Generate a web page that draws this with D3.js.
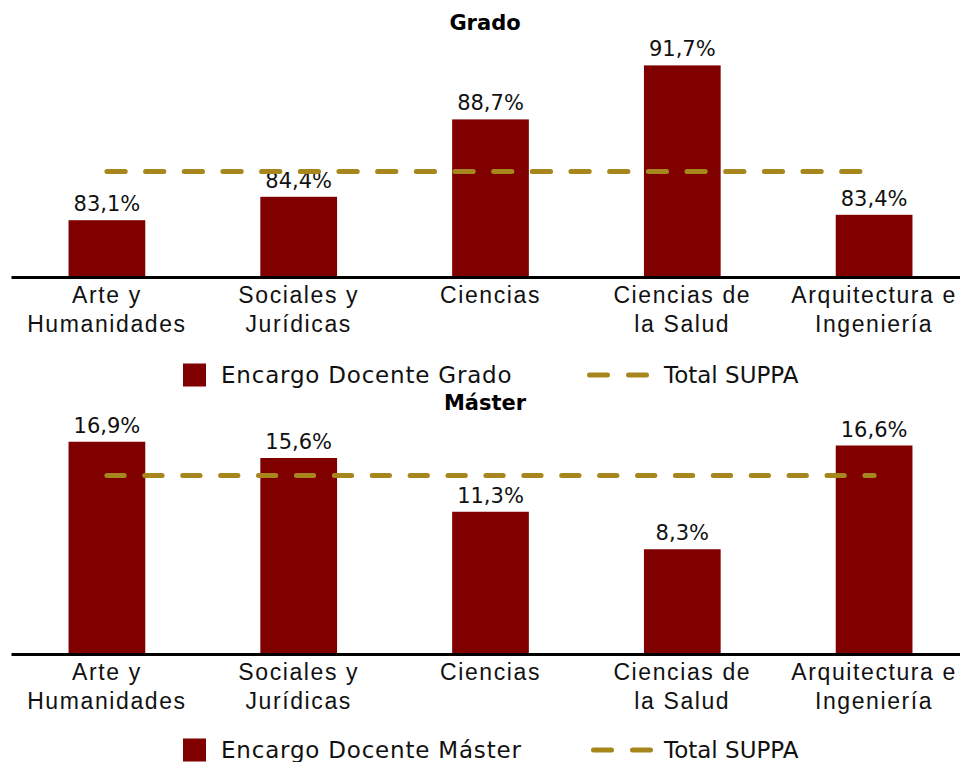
<!DOCTYPE html>
<html>
<head>
<meta charset="utf-8">
<script src="https://cdn.jsdelivr.net/npm/d3@7"></script>
<style>
  body { margin: 0; background: #fff; }
  svg { display: block; font-family: "DejaVu Sans", sans-serif; }
</style>
</head>
<body>
<svg width="960" height="762"></svg>
<script>
// data
var categories = ["Arte y Humanidades", "Sociales y Jurídicas", "Ciencias", "Ciencias de la Salud", "Arquitectura e Ingeniería"];
var labelLines = [["Arte y", "Humanidades"], ["Sociales y", "Jurídicas"], ["Ciencias"], ["Ciencias de", "la Salud"], ["Arquitectura e", "Ingeniería"]];
var gradoValues = [83.1, 84.4, 88.7, 91.7, 83.4];
var gradoTotal = 85.8;
var masterValues = [16.9, 15.6, 11.3, 8.3, 16.6];
var masterTotal = 14.2;

var barColor = "#800000";
var lineColor = "#a8861e";
var fmt = function(v) { return d3.format(".1f")(v).replace(".", ",") + "%"; };

var svg = d3.select("svg");

// x scale shared by both panels
var xScale = d3.scaleBand()
  .domain(categories)
  .range([11, 970])
  .paddingInner(0.6)
  .paddingOuter(0.3);

function drawPanel(opts) {
  var g = svg.append("g");
  var values = opts.values;

  var yScale = d3.scaleLinear()
    .domain(opts.domain)
    .range([opts.base, opts.top]);

  // title
  g.append("text")
    .attr("x", 485)
    .attr("y", opts.titleY)
    .attr("text-anchor", "middle")
    .attr("font-weight", "bold")
    .attr("font-size", 21)
    .text(opts.title);

  // bars
  g.selectAll("rect.bar")
    .data(categories)
    .enter()
      .append("rect")
      .attr("class", "bar")
      .attr("x", d => xScale(d))
      .attr("width", xScale.bandwidth())
      .attr("y", (d, i) => yScale(values[i]))
      .attr("height", (d, i) => opts.base - yScale(values[i]))
      .attr("fill", barColor);

  // value labels
  g.selectAll("text.val")
    .data(categories)
    .enter()
      .append("text")
      .attr("class", "val")
      .attr("x", d => xScale(d) + xScale.bandwidth() / 2)
      .attr("y", (d, i) => yScale(values[i]) - 9)
      .attr("text-anchor", "middle")
      .attr("font-size", 21)
      .attr("fill", "#111")
      .text((d, i) => fmt(values[i]));

  // total line
  var line = d3.line()
    .x(d => xScale(d) + xScale.bandwidth() / 2)
    .y(() => yScale(opts.total));

  g.append("path")
    .datum(categories)
    .attr("d", line)
    .attr("fill", "none")
    .attr("stroke", lineColor)
    .attr("stroke-width", 5)
    .attr("stroke-linecap", "round")
    .attr("stroke-dasharray", opts.dash);

  // x axis
  var axis = g.append("g")
    .attr("transform", "translate(0," + (opts.base + 1) + ")")
    .call(d3.axisBottom(xScale).tickSize(0).tickFormat(""));

  axis.select(".domain")
    .attr("stroke", "#000")
    .attr("stroke-width", 3);

  axis.selectAll(".tick text").remove();
  axis.selectAll(".tick")
    .append("text")
    .attr("fill", "#111")
    .attr("font-size", 23)
    .attr("letter-spacing", 1.6)
    .attr("text-anchor", "middle")
    .each(function(d) {
      var lines = labelLines[categories.indexOf(d)];
      var t = d3.select(this);
      lines.forEach(function(l, i) {
        t.append("tspan")
          .attr("x", 0)
          .attr("y", 26 + i * 29)
          .text(l);
      });
    });

  // legend
  var lg = g.append("g").attr("transform", "translate(0," + opts.legendY + ")");
  lg.append("rect")
    .attr("x", 183).attr("y", -11.5)
    .attr("width", 23).attr("height", 23)
    .attr("fill", barColor);
  lg.append("text")
    .attr("x", 221).attr("y", 8)
    .attr("font-size", 23)
    .attr("letter-spacing", 0.8)
    .attr("fill", "#111")
    .text(opts.legendLabel);
  lg.append("line")
    .attr("x1", opts.dashX).attr("x2", opts.dashX + 58)
    .attr("y1", 0).attr("y2", 0)
    .attr("stroke", lineColor)
    .attr("stroke-width", 5)
    .attr("stroke-linecap", "round")
    .attr("stroke-dasharray", "18 21");
  lg.append("text")
    .attr("x", 664).attr("y", 8)
    .attr("font-size", 23)
    .attr("fill", "#111")
    .text("Total SUPPA");
}

drawPanel({
  title: "Grado",
  titleY: 30,
  values: gradoValues,
  total: gradoTotal,
  domain: [80, 92],
  base: 276,
  top: 60,
  legendY: 375,
  legendLabel: "Encargo Docente Grado",
  dashX: 589.5,
  dash: "18.3 20.37"
});

drawPanel({
  title: "Máster",
  titleY: 410,
  values: masterValues,
  total: masterTotal,
  domain: [0, 18],
  base: 653,
  top: 428,
  legendY: 750,
  legendLabel: "Encargo Docente Máster",
  dashX: 593.5,
  dash: "17.3 20.6"
});
</script>
</body>
</html>
